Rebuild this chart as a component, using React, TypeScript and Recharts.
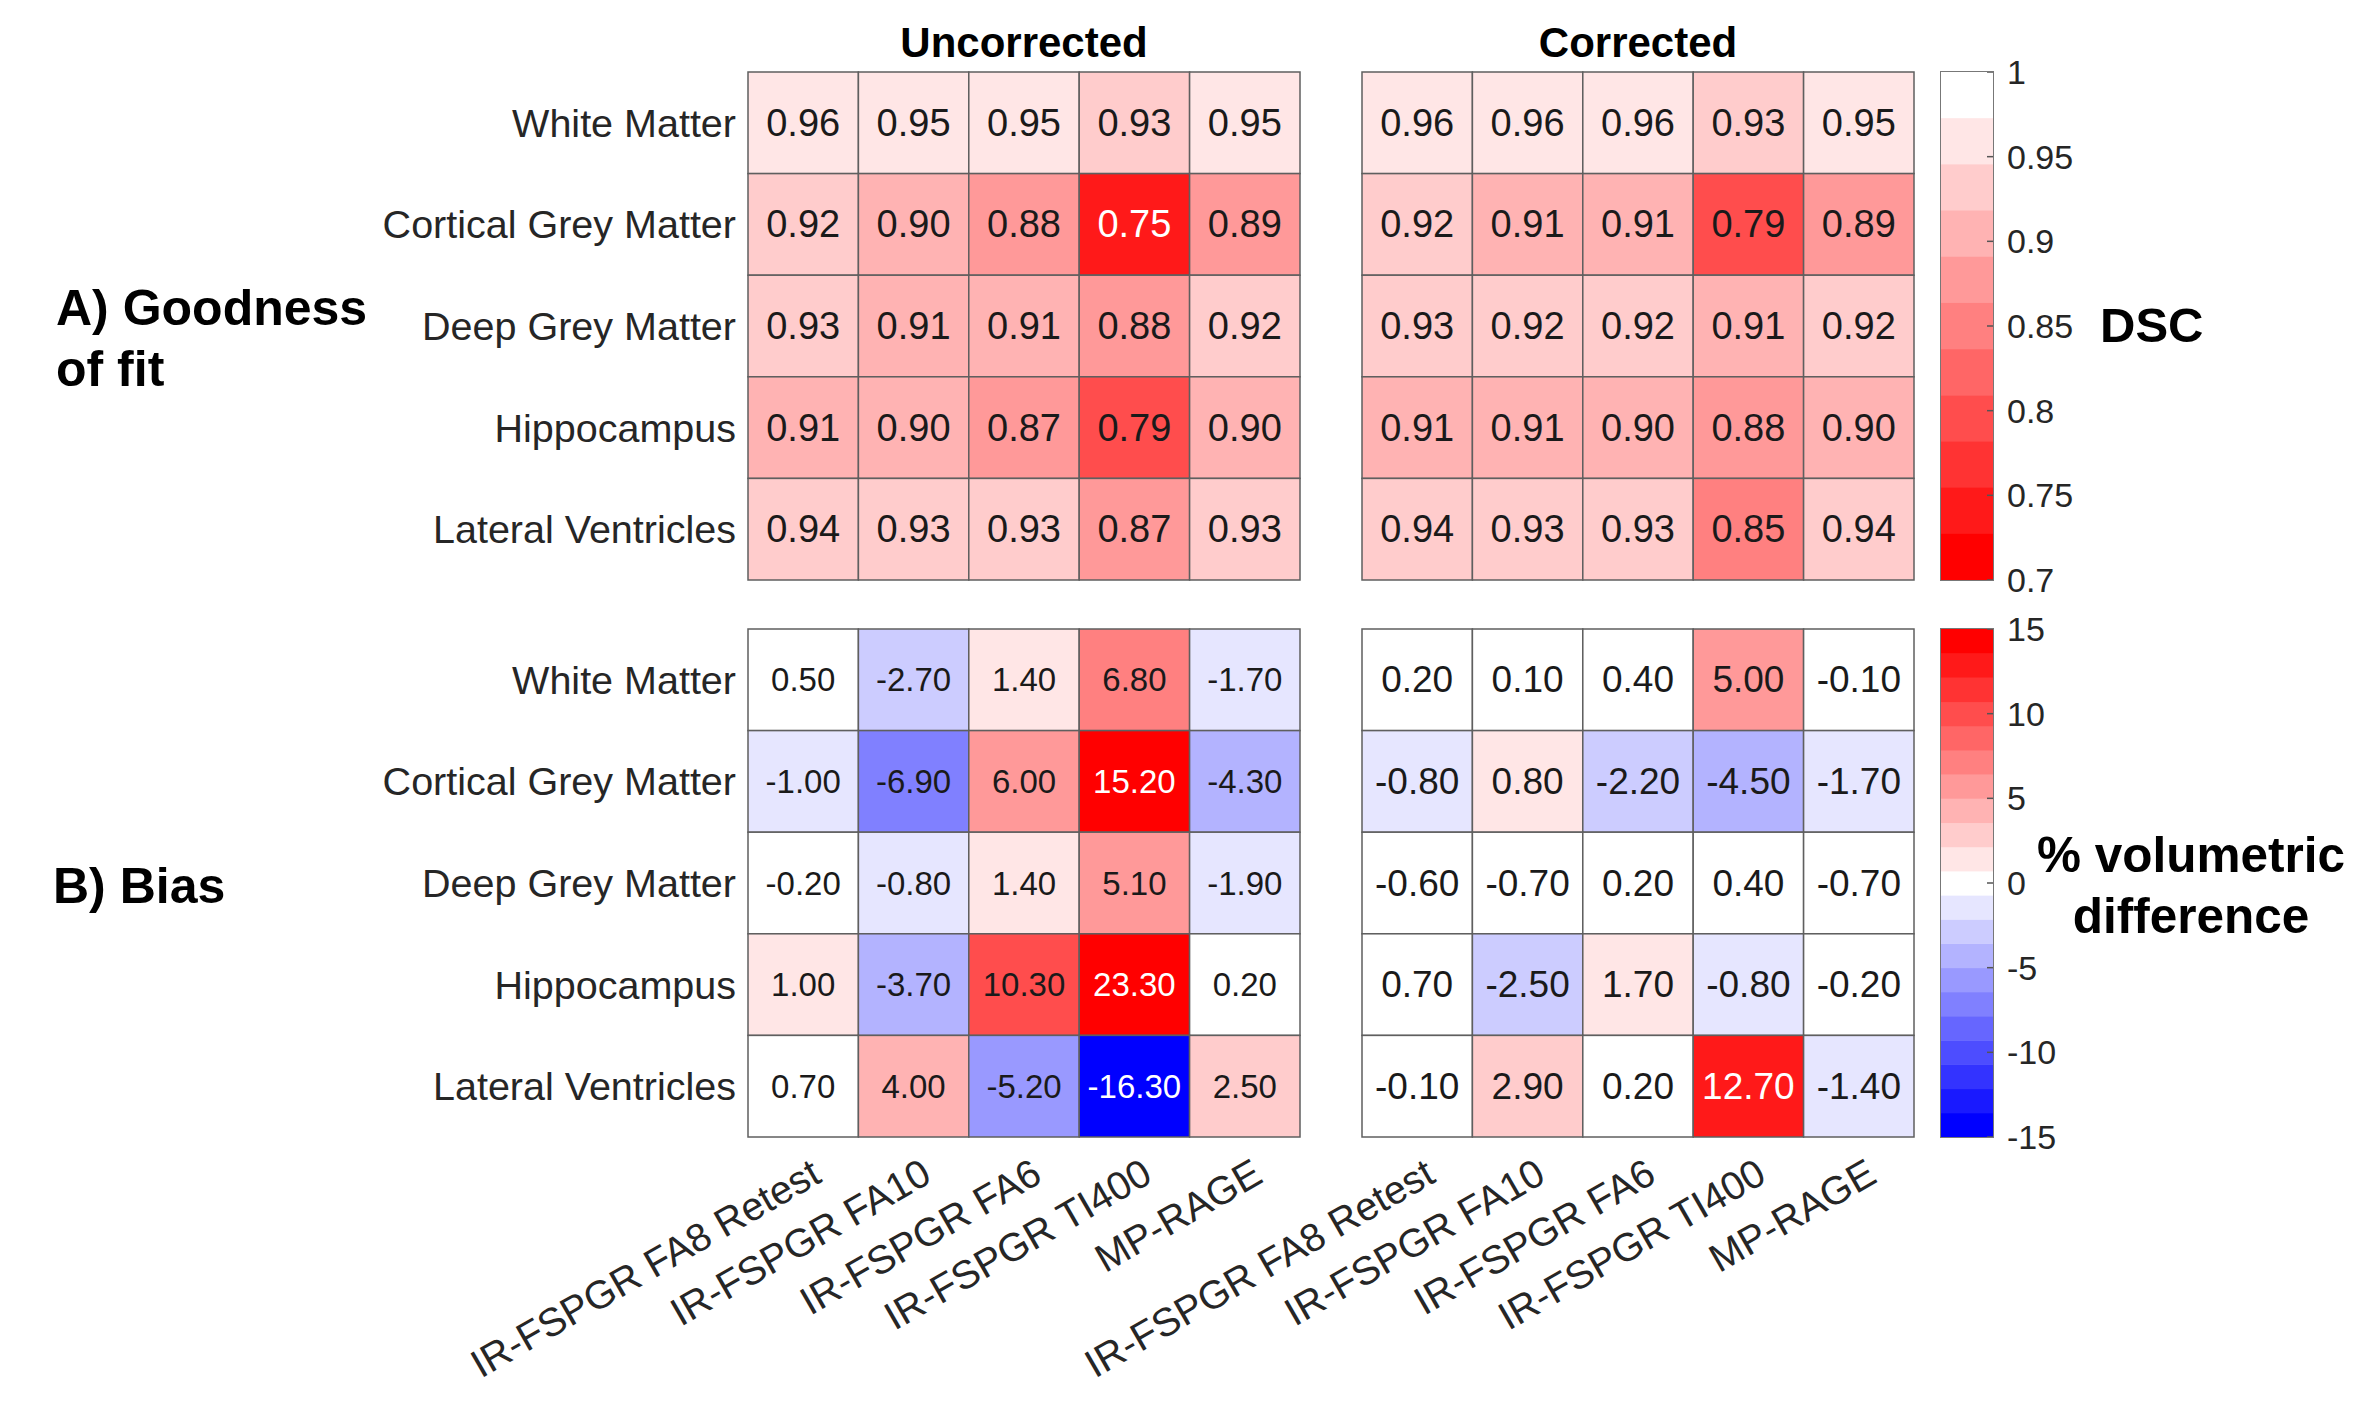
import React from "react"
import { ScatterChart, Scatter, XAxis, YAxis } from "recharts"

// regions (rows) and sequences (columns)
const regions = ["White Matter", "Cortical Grey Matter", "Deep Grey Matter", "Hippocampus", "Lateral Ventricles"]
const sequences = ["IR-FSPGR FA8 Retest", "IR-FSPGR FA10", "IR-FSPGR FA6", "IR-FSPGR TI400", "MP-RAGE"]

// A) Goodness of fit (DSC)
const dscUncorrected = [
  [0.96, 0.95, 0.95, 0.93, 0.95],
  [0.92, 0.9, 0.88, 0.75, 0.89],
  [0.93, 0.91, 0.91, 0.88, 0.92],
  [0.91, 0.9, 0.87, 0.79, 0.9],
  [0.94, 0.93, 0.93, 0.87, 0.93],
]
const dscCorrected = [
  [0.96, 0.96, 0.96, 0.93, 0.95],
  [0.92, 0.91, 0.91, 0.79, 0.89],
  [0.93, 0.92, 0.92, 0.91, 0.92],
  [0.91, 0.91, 0.9, 0.88, 0.9],
  [0.94, 0.93, 0.93, 0.85, 0.94],
]

// B) Bias (% volumetric difference)
const biasUncorrected = [
  [0.5, -2.7, 1.4, 6.8, -1.7],
  [-1.0, -6.9, 6.0, 15.2, -4.3],
  [-0.2, -0.8, 1.4, 5.1, -1.9],
  [1.0, -3.7, 10.3, 23.3, 0.2],
  [0.7, 4.0, -5.2, -16.3, 2.5],
]
const biasCorrected = [
  [0.2, 0.1, 0.4, 5.0, -0.1],
  [-0.8, 0.8, -2.2, -4.5, -1.7],
  [-0.6, -0.7, 0.2, 0.4, -0.7],
  [0.7, -2.5, 1.7, -0.8, -0.2],
  [-0.1, 2.9, 0.2, 12.7, -1.4],
]

const dscTicks = [0.7, 0.75, 0.8, 0.85, 0.9, 0.95, 1]
const biasTicks = [-15, -10, -5, 0, 5, 10, 15]

const FONT = '"Liberation Sans", Arial, Helvetica, sans-serif'
const PLOT_W = 552
const PLOT_H = 508
const DSC_LEVELS = 11
const BIAS_LEVELS = 21

// discrete colormaps (white -> red, blue -> white -> red)
function dscIndex(v: number) {
  return Math.min(10, Math.floor(((1 - v) / 0.3) * DSC_LEVELS))
}
function dscColor(v: number) {
  const c = Math.round(255 * (1 - dscIndex(v) / 10))
  return `rgb(255,${c},${c})`
}
function biasIndex(v: number) {
  return Math.max(-10, Math.min(10, Math.round(v / (30 / BIAS_LEVELS))))
}
function biasColor(v: number) {
  const k = biasIndex(v)
  const c = Math.round(255 * (1 - Math.abs(k) / 10))
  return k >= 0 ? `rgb(255,${c},${c})` : `rgb(${c},${c},255)`
}

const centers = [0.5, 1.5, 2.5, 3.5, 4.5]

function Heatmap({ left, top, values, color, dark, fontSize, rowLabels, colLabels }: any) {
  const m = 4
  const yw = rowLabels ? 520 : 0
  const padLeft = rowLabels ? m : colLabels ? 420 : m
  const xh = colLabels ? 300 : 0
  const cw = PLOT_W / 5
  const ch = PLOT_H / 5
  const data = values.flatMap((row: number[], r: number) =>
    row.map((v: number, c: number) => ({ x: c + 0.5, y: r + 0.5, v }))
  )

  const cellShape = (p: any) => {
    const { cx, cy, payload } = p
    return (
      <g>
        <rect x={cx - cw / 2} y={cy - ch / 2} width={cw} height={ch} fill={color(payload.v)} stroke="#5f5f5f" strokeWidth={1.5} />
        <text
          x={cx}
          y={cy}
          textAnchor="middle"
          dominantBaseline="central"
          fontSize={fontSize}
          fontFamily={FONT}
          fill={dark(payload.v) ? "#ffffff" : "#1a1a1a"}
        >
          {payload.v.toFixed(2)}
        </text>
      </g>
    )
  }

  const RowTick = (p: any) => (
    <text x={p.x} y={p.y} textAnchor="end" dominantBaseline="central" fontSize={39.5} fontFamily={FONT} fill="#262626">
      {regions[Math.floor(p.payload.value)]}
    </text>
  )
  const ColTick = (p: any) => (
    <text
      transform={`translate(${p.x + 13},${p.y + 32}) rotate(-30)`}
      textAnchor="end"
      dominantBaseline="central"
      fontSize={39.5}
      fontFamily={FONT}
      fill="#262626"
    >
      {sequences[Math.floor(p.payload.value)]}
    </text>
  )

  return (
    <div style={{ position: "absolute", left: left - yw - padLeft, top: top - m }}>
      <ScatterChart
        width={padLeft + yw + PLOT_W + m}
        height={m + PLOT_H + xh + m}
        margin={{ top: m, right: m, bottom: m, left: padLeft }}
      >
        <XAxis
          type="number"
          dataKey="x"
          domain={[0, 5]}
          ticks={centers}
          interval={0}
          hide={!colLabels}
          height={xh}
          tickLine={false}
          axisLine={false}
          tickSize={0}
          tickMargin={0}
          tick={<ColTick />}
        />
        <YAxis
          type="number"
          dataKey="y"
          domain={[0, 5]}
          reversed
          ticks={centers}
          interval={0}
          hide={!rowLabels}
          width={yw}
          tickLine={false}
          axisLine={false}
          tickSize={0}
          tickMargin={12}
          tick={<RowTick />}
        />
        <Scatter data={data} shape={cellShape} isAnimationActive={false} />
      </ScatterChart>
    </div>
  )
}

function ColorBar({ left, top, bands, domain, ticks, fmt }: any) {
  const m = 4
  const barW = 52
  const tw = 130
  const bh = PLOT_H / bands.length

  const bandShape = (p: any) => (
    <rect x={p.cx - barW / 2} y={p.cy - bh / 2} width={barW} height={bh + 0.5} fill={p.payload.fill} />
  )
  const BarTick = (p: any) => (
    <g>
      <line x1={p.x - 14 - 6} x2={p.x - 14} y1={p.y} y2={p.y} stroke="#555" strokeWidth={1.5} />
      <text x={p.x} y={p.y} textAnchor="start" dominantBaseline="central" fontSize={34} fontFamily={FONT} fill="#262626">
        {fmt(p.payload.value)}
      </text>
    </g>
  )

  return (
    <div style={{ position: "absolute", left: left - m, top: top - m }}>
      <ScatterChart width={m + barW + tw} height={m + PLOT_H + m} margin={{ top: m, right: 0, bottom: m, left: m }}>
        <XAxis type="number" dataKey="x" domain={[0, 1]} hide />
        <YAxis
          type="number"
          dataKey="y"
          domain={domain}
          orientation="right"
          ticks={ticks}
          interval={0}
          width={tw}
          tickLine={false}
          axisLine={false}
          tickSize={0}
          tickMargin={14}
          tick={<BarTick />}
        />
        <Scatter data={bands} shape={bandShape} isAnimationActive={false} />
      </ScatterChart>
      <div
        style={{
          position: "absolute",
          left: m - 1,
          top: m - 1,
          width: barW,
          height: PLOT_H,
          border: "1.5px solid #777",
          pointerEvents: "none",
        }}
      />
    </div>
  )
}

// colorbar levels of the two colormaps
const dscBands = Array.from({ length: DSC_LEVELS }, (_, i) => {
  const c = Math.round(255 * (1 - i / 10))
  return { x: 0.5, y: 1 - ((i + 0.5) * 0.3) / DSC_LEVELS, fill: `rgb(255,${c},${c})` }
})
const biasBands = Array.from({ length: BIAS_LEVELS }, (_, j) => {
  const k = j - 10
  const c = Math.round(255 * (1 - Math.abs(k) / 10))
  return {
    x: 0.5,
    y: -15 + ((j + 0.5) * 30) / BIAS_LEVELS,
    fill: k >= 0 ? `rgb(255,${c},${c})` : `rgb(${c},${c},255)`,
  }
})

const UNC_X = 748
const COR_X = 1362
const TOP_Y = 72
const BOT_Y = 629
const BAR_X = 1941

export default function App() {
  const bold = { fontFamily: FONT, fontWeight: 700, fill: "#000" }
  return (
    <div style={{ position: "absolute", left: 0, top: 0, width: 2366, height: 1422, background: "#fff" }}>
      <style>{`.recharts-surface{overflow:visible}`}</style>

      <Heatmap left={UNC_X} top={TOP_Y} values={dscUncorrected} color={dscColor} dark={(v: number) => dscIndex(v) >= 9} fontSize={38} rowLabels />
      <Heatmap left={COR_X} top={TOP_Y} values={dscCorrected} color={dscColor} dark={(v: number) => dscIndex(v) >= 9} fontSize={38} />
      <Heatmap
        left={UNC_X}
        top={BOT_Y}
        values={biasUncorrected}
        color={biasColor}
        dark={(v: number) => Math.abs(biasIndex(v)) >= 9}
        fontSize={33}
        rowLabels
        colLabels
      />
      <Heatmap
        left={COR_X}
        top={BOT_Y}
        values={biasCorrected}
        color={biasColor}
        dark={(v: number) => Math.abs(biasIndex(v)) >= 9}
        fontSize={37}
        colLabels
      />

      <ColorBar left={BAR_X} top={TOP_Y} bands={dscBands} domain={[0.7, 1]} ticks={dscTicks} fmt={(v: number) => String(v)} />
      <ColorBar left={BAR_X} top={BOT_Y} bands={biasBands} domain={[-15, 15]} ticks={biasTicks} fmt={(v: number) => String(v)} />

      <svg width={2366} height={1422} style={{ position: "absolute", left: 0, top: 0, pointerEvents: "none" }}>
        <text x={UNC_X + PLOT_W / 2} y={42} textAnchor="middle" dominantBaseline="central" fontSize={42} {...bold}>
          Uncorrected
        </text>
        <text x={COR_X + PLOT_W / 2} y={42} textAnchor="middle" dominantBaseline="central" fontSize={42} {...bold}>
          Corrected
        </text>
        <text x={56} y={308} dominantBaseline="central" fontSize={50} {...bold}>
          A) Goodness
        </text>
        <text x={56} y={369} dominantBaseline="central" fontSize={50} {...bold}>
          of fit
        </text>
        <text x={53} y={886} dominantBaseline="central" fontSize={50} {...bold}>
          B) Bias
        </text>
        <text x={2100} y={325} dominantBaseline="central" fontSize={49} {...bold}>
          DSC
        </text>
        <text x={2191} y={854} textAnchor="middle" dominantBaseline="central" fontSize={49.5} {...bold}>
          % volumetric
        </text>
        <text x={2191} y={915} textAnchor="middle" dominantBaseline="central" fontSize={49.5} {...bold}>
          difference
        </text>
      </svg>
    </div>
  )
}
